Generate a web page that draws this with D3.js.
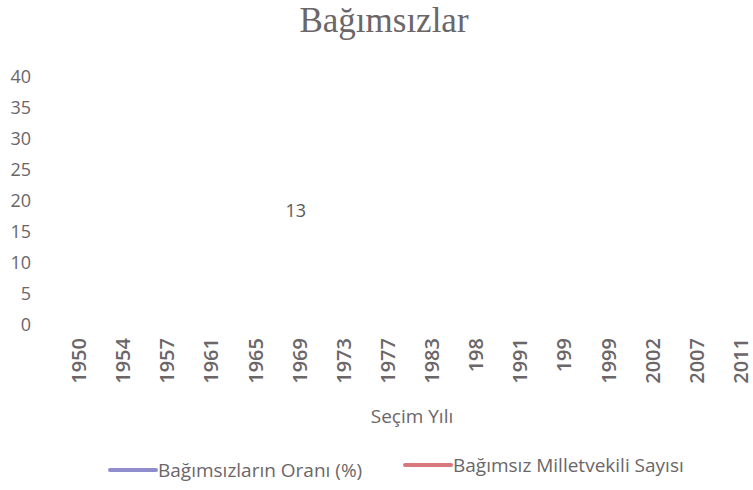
<!DOCTYPE html>
<html>
<head>
<meta charset="utf-8">
<script src="https://cdn.jsdelivr.net/npm/d3@7"></script>
<style>
  body { margin: 0; background: #fff; }
  svg { display: block; }
</style>
</head>
<body>
<div id="chart"></div>
<script>
// Election years as they appear on the axis (some are cut off in the source)
const years = ['1950', '1954', '1957', '1961', '1965', '1969', '1973', '1977',
  '1983', '198', '1991', '199', '1999', '2002', '2007', '2011'];

// Neither line is visible in the source; only one data label survives.
const oranValues = [null, null, null, null, null, null, null, null,
  null, null, null, null, null, null, null, null];
const vekilValues = [null, null, null, null, null, 13, null, null,
  null, null, null, null, null, null, null, null];

const yTicks = [0, 5, 10, 15, 20, 25, 30, 35, 40];

const seriesNames = ['Bağımsızların Oranı (%)', 'Bağımsız Milletvekili Sayısı'];
const seriesColors = ['#8f8dcc', '#d9777f'];

const width = 753;
const height = 490;
const textColor = '#6b6668';

const svg = d3.select('#chart')
  .append('svg')
  .attr('width', width)
  .attr('height', height);

// Title
svg.append('text')
  .attr('x', 384)
  .attr('y', 32)
  .attr('text-anchor', 'middle')
  .attr('fill', textColor)
  .style('font-family', '"Liberation Serif", "DejaVu Serif", serif')
  .style('font-size', '35px')
  .text('Bağımsızlar');

// Scales
const x = d3.scaleBand()
  .domain(years)
  .range([57, 763]);

const y = d3.scaleLinear()
  .domain([0, 40])
  .range([325, 77]);

// Y axis labels only (no axis line, no gridlines)
svg.append('g')
  .selectAll('text')
  .data(yTicks)
  .enter()
  .append('text')
  .attr('x', 31)
  .attr('y', d => y(d))
  .attr('dy', '0.35em')
  .attr('text-anchor', 'end')
  .attr('fill', textColor)
  .style('font-family', '"Open Sans", sans-serif')
  .style('font-size', '18px')
  .text(d => d);

// X axis labels, rotated
svg.append('g')
  .selectAll('text')
  .data(years)
  .enter()
  .append('text')
  .attr('transform', d => `translate(${x(d) + x.bandwidth() / 2}, 338) rotate(-90)`)
  .attr('dy', '0.35em')
  .attr('text-anchor', 'end')
  .attr('fill', textColor)
  .style('font-family', '"Open Sans", sans-serif')
  .style('font-weight', '600')
  .style('font-size', '20px')
  .text(d => d);

// X axis title
svg.append('text')
  .attr('x', 412)
  .attr('y', 416)
  .attr('dy', '0.35em')
  .attr('text-anchor', 'middle')
  .attr('fill', textColor)
  .style('font-family', '"Open Sans", sans-serif')
  .style('font-size', '19px')
  .text('Seçim Yılı');

// Lines (empty in the source, nulls are skipped)
const line = d3.line()
  .defined(d => d.v != null)
  .x(d => x(d.year) + x.bandwidth() / 2)
  .y(d => y(d.v));

[oranValues, vekilValues].forEach((vals, i) => {
  svg.append('path')
    .datum(years.map((year, j) => ({ year, v: vals[j] })))
    .attr('fill', 'none')
    .attr('stroke', seriesColors[i])
    .attr('stroke-width', 3)
    .attr('d', line);
});

// Data label for the one remaining value
svg.append('g')
  .selectAll('text')
  .data(years.map((year, j) => ({ year, v: vekilValues[j] })).filter(d => d.v != null))
  .enter()
  .append('text')
  .attr('x', d => x(d.year) + x.bandwidth() / 2 - 4)
  .attr('y', d => y(d.v) - 34)
  .attr('dy', '0.35em')
  .attr('text-anchor', 'middle')
  .attr('fill', '#595959')
  .style('font-family', '"Open Sans", sans-serif')
  .style('font-size', '18px')
  .text(d => d.v);

// Legend
const legendPos = [{ x: 110, y: 470 }, { x: 405, y: 465 }];
const legend = svg.append('g');
seriesNames.forEach((name, i) => {
  const g = legend.append('g')
    .attr('transform', `translate(${legendPos[i].x}, ${legendPos[i].y})`);
  g.append('line')
    .attr('x1', 0)
    .attr('x2', 46)
    .attr('stroke', seriesColors[i])
    .attr('stroke-width', 4)
    .attr('stroke-linecap', 'round');
  g.append('text')
    .attr('x', 48)
    .attr('dy', '0.35em')
    .attr('fill', textColor)
    .style('font-family', '"Open Sans", sans-serif')
    .style('font-size', '19px')
    .text(name);
});
</script>
</body>
</html>
